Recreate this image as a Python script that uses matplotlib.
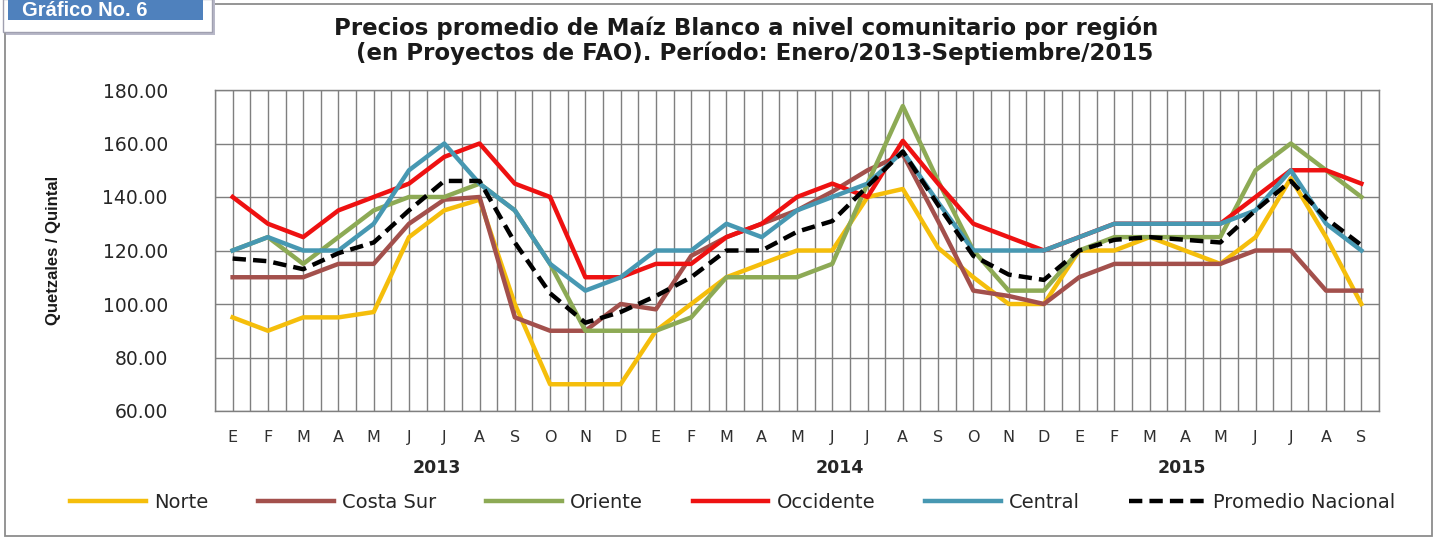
import matplotlib
matplotlib.use("Agg")
import matplotlib.pyplot as plt
from matplotlib import font_manager
from matplotlib.patches import Rectangle
import numpy as np

# ---------------- data ----------------
months = ["E", "F", "M", "A", "M", "J", "J", "A", "S", "O", "N", "D",
          "E", "F", "M", "A", "M", "J", "J", "A", "S", "O", "N", "D",
          "E", "F", "M", "A", "M", "J", "J", "A", "S"]
years = ["2013", "2014", "2015"]
year_label_pos = [5.8, 17.2, 26.9]

norte = [95, 90, 95, 95, 97, 125, 135, 139, 100, 70, 70, 70,
         90, 100, 110, 115, 120, 120, 140, 143, 121, 110, 100, 100,
         120, 120, 125, 120, 115, 125, 147, 125, 100]
costa_sur = [110, 110, 110, 115, 115, 130, 139, 140, 95, 90, 90, 100,
             98, 118, 125, 130, 135, 142, 150, 156, 131, 105, 103, 100,
             110, 115, 115, 115, 115, 120, 120, 105, 105]
oriente = [120, 125, 115, 125, 135, 140, 140, 145, 135, 115, 90, 90,
           90, 95, 110, 110, 110, 115, 145, 174, 146, 120, 105, 105,
           120, 125, 125, 125, 125, 150, 160, 150, 140]
occidente = [140, 130, 125, 135, 140, 145, 155, 160, 145, 140, 110, 110,
             115, 115, 125, 130, 140, 145, 140, 161, 145, 130, 125, 120,
             125, 130, 130, 130, 130, 140, 150, 150, 145]
central = [120, 125, 120, 120, 130, 150, 160, 145, 135, 115, 105, 110,
           120, 120, 130, 125, 135, 140, 145, 157, 138, 120, 120, 120,
           125, 130, 130, 130, 130, 135, 150, 130, 120]
promedio = [117, 116, 113, 119, 123, 135, 146, 146, 123, 104, 93, 97,
            103, 110, 120, 120, 127, 131, 144, 157, 137, 118, 111, 109,
            120, 124, 125, 124, 123, 135, 146, 132, 122]

series_names = ["Norte", "Costa Sur", "Oriente", "Occidente", "Central", "Promedio Nacional"]
series_values = [norte, costa_sur, oriente, occidente, central, promedio]
series_colors = ["#F5BE0B", "#A3504C", "#8DAA55", "#EE1111", "#4798B2", "#000000"]

title_lines = ["Precios promedio de Maíz Blanco a nivel comunitario por región",
               "(en Proyectos de FAO). Período: Enero/2013-Septiembre/2015"]
ylabel = "Quetzales / Quintal"
badge_text = "Gráfico No. 6"

# ---------------- fonts ----------------
installed = {f.name for f in font_manager.fontManager.ttflist}
arial_like = "Liberation Sans" if "Liberation Sans" in installed else "DejaVu Sans"

W, H = 1438, 538
fig = plt.figure(figsize=(W / 100, H / 100), dpi=100)
fig.patch.set_facecolor("white")

def fx(px):
    return px / W

def fy(py):
    return 1 - py / H

# outer chart border
fig.add_artist(Rectangle((fx(5), fy(536)), fx(1432) - fx(5), fy(4) - fy(536),
                         transform=fig.transFigure, fill=False,
                         edgecolor="#8C8C8C", linewidth=1.3, zorder=0))

# badge
fig.add_artist(Rectangle((fx(6), fy(35)), fx(209), 35 / H, transform=fig.transFigure,
                         facecolor="#B8B8C8", edgecolor="none", zorder=1))
fig.add_artist(Rectangle((fx(3), fy(32)), fx(209), 33 / H, transform=fig.transFigure,
                         facecolor="white", edgecolor="#A0A0B0", linewidth=1.0, zorder=2))
fig.add_artist(Rectangle((fx(8), fy(20)), fx(195), 21 / H, transform=fig.transFigure,
                         facecolor="#4F81BD", edgecolor="none", zorder=3))
fig.text(fx(22), fy(16.5), badge_text, color="white", fontsize=14.5, fontweight="bold",
         family=[arial_like, "DejaVu Sans"], ha="left", va="baseline", zorder=4)

# axes
ax = fig.add_axes([fx(215), fy(411), (1379 - 215) / W, (411 - 90) / H])
x = np.arange(len(months))
for name, vals, col in zip(series_names, series_values, series_colors):
    if name == "Promedio Nacional":
        ax.plot(x, vals, color=col, lw=3.2, dashes=(3, 1.6), label=name, zorder=5,
                solid_joinstyle="round", dash_capstyle="butt")
    else:
        ax.plot(x, vals, color=col, lw=3.2, label=name, zorder=4, solid_joinstyle="round")

ax.set_xlim(-0.5, len(months) - 0.5)
ax.set_ylim(60, 180)
ax.set_yticks(np.arange(60, 181, 20))
ax.set_yticklabels([f"{v:.2f}" for v in np.arange(60, 181, 20)])
ax.set_xticks(x)
ax.set_xticklabels(months)
ax.set_xticks(np.arange(-0.5, len(months), 1), minor=True)
ax.grid(True, which="both", axis="x", color="#7F7F7F", lw=1.0, zorder=1)
ax.grid(True, which="major", axis="y", color="#7F7F7F", lw=1.0, zorder=1)
ax.set_axisbelow(True)
for s in ax.spines.values():
    s.set_color("#7F7F7F")
    s.set_linewidth(1.0)
ax.tick_params(axis="both", which="both", length=0)
ax.tick_params(axis="y", pad=34, labelsize=13.5, labelcolor="#262626")
ax.tick_params(axis="x", pad=14, labelsize=11.5, labelcolor="#303030")

# year labels
for pos, yr in zip(year_label_pos, years):
    ax.text(pos, -0.178, yr, transform=ax.get_xaxis_transform(), ha="center", va="center",
            fontsize=12.5, fontweight="bold", color="#262626")

# y label
fig.text(fx(54), fy(250), ylabel, rotation=90, ha="center", va="center",
         fontsize=12, fontweight="bold", family=[arial_like, "DejaVu Sans"], color="#1a1a1a")

# title
fig.text(fx(746), fy(28), title_lines[0], ha="center", va="center",
         fontsize=16.5, fontweight="bold", color="#1a1a1a")
fig.text(fx(755), fy(53), title_lines[1], ha="center", va="center",
         fontsize=16.5, fontweight="bold", color="#1a1a1a")

# legend
handles, labels = ax.get_legend_handles_labels()
fig.legend(handles, labels, loc="center", bbox_to_anchor=(fx(733), fy(502)), ncol=6,
           frameon=False, fontsize=14, handlelength=3.9, handletextpad=0.42,
           columnspacing=2.55, borderaxespad=0, labelcolor="#262626")

fig.savefig("out.png", dpi=100, facecolor="white")
